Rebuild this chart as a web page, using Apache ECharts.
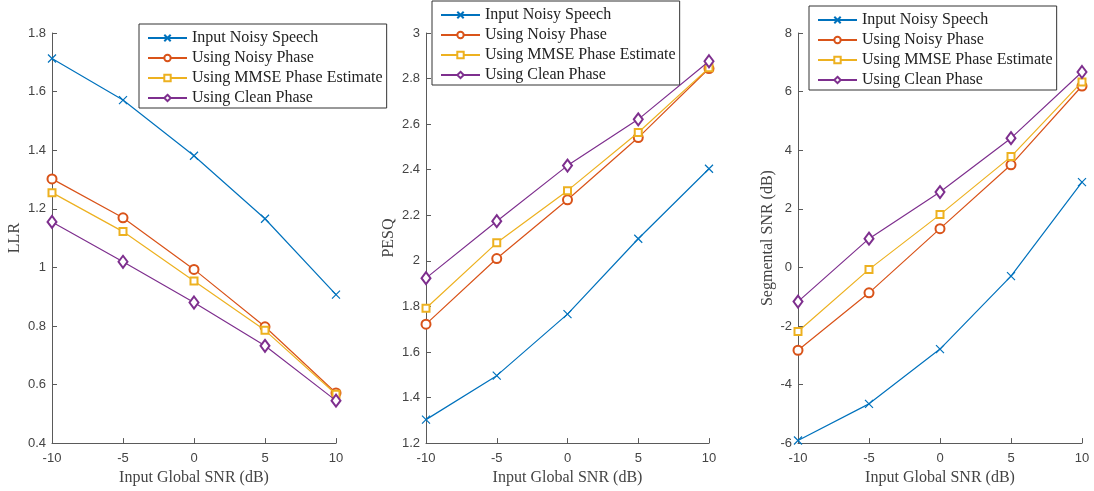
<!DOCTYPE html>
<html>
<head>
<meta charset="utf-8">
<script src="https://cdn.jsdelivr.net/npm/echarts@6/dist/echarts.min.js"></script>
<style>
  html, body { margin: 0; padding: 0; background: #fff; }
  #chart { width: 1094px; height: 491px; }
</style>
</head>
<body>
<div id="chart"></div>
<script>
// Input global SNR (dB) shared by all three panels
const snr = [-10, -5, 0, 5, 10];

const seriesNames = [
  'Input Noisy Speech',
  'Using Noisy Phase',
  'Using MMSE Phase Estimate',
  'Using Clean Phase'
];

// LLR (lower is better)
const llrNoisy = [1.713, 1.571, 1.381, 1.166, 0.907];
const llrNoisyPhase = [1.302, 1.169, 0.993, 0.797, 0.571];
const llrMmsePhase = [1.255, 1.122, 0.953, 0.785, 0.567];
const llrCleanPhase = [1.155, 1.019, 0.880, 0.732, 0.545];

// PESQ
const pesqNoisy = [1.303, 1.496, 1.766, 2.097, 2.404];
const pesqNoisyPhase = [1.722, 2.010, 2.268, 2.541, 2.844];
const pesqMmsePhase = [1.792, 2.079, 2.308, 2.563, 2.847];
const pesqCleanPhase = [1.924, 2.174, 2.418, 2.621, 2.876];

// Segmental SNR (dB)
const segNoisy = [-5.91, -4.66, -2.79, -0.30, 2.91];
const segNoisyPhase = [-2.83, -0.87, 1.32, 3.50, 6.19];
const segMmsePhase = [-2.19, -0.07, 1.80, 3.78, 6.33];
const segCleanPhase = [-1.17, 0.98, 2.57, 4.41, 6.67];

// y-axis ticks per panel
const llrTicks = { min: 0.4, max: 1.8, interval: 0.2 };
const pesqTicks = { min: 1.2, max: 3, interval: 0.2 };
const segTicks = { min: -6, max: 8, interval: 2 };

const colors = ['#0072BD', '#D95319', '#EDB120', '#7E2F8E'];
const symbols = [
  'path://M0,0L10,10M10,0L0,10',
  'emptyCircle',
  'emptyRect',
  'emptyDiamond'
];
const symbolSizes = [8, 9, 7, [9, 12]];

const panels = [
  { name: 'LLR', ticks: llrTicks, data: [llrNoisy, llrNoisyPhase, llrMmsePhase, llrCleanPhase],
    grid: { left: 52, top: 33, width: 284, height: 411 }, nameGap: 29,
    legend: { left: 139, top: 24 } },
  { name: 'PESQ', ticks: pesqTicks, data: [pesqNoisy, pesqNoisyPhase, pesqMmsePhase, pesqCleanPhase],
    grid: { left: 426, top: 33, width: 283, height: 411 }, nameGap: 29,
    legend: { left: 432, top: 1 } },
  { name: 'Segmental SNR (dB)', ticks: segTicks, data: [segNoisy, segNoisyPhase, segMmsePhase, segCleanPhase],
    grid: { left: 798, top: 33, width: 284, height: 411 }, nameGap: 22,
    legend: { left: 809, top: 6 } }
];

const axisColor = '#5a5a5a';
const labelColor = '#444';
const serif = '"Liberation Serif", "Times New Roman", serif';
const sans = '"Liberation Sans", Arial, sans-serif';

const grids = [], xAxes = [], yAxes = [], series = [], legends = [];

panels.forEach((p, pi) => {
  grids.push(Object.assign({ containLabel: false }, p.grid));
  xAxes.push({
    type: 'value', gridIndex: pi, min: -10, max: 10, interval: 5,
    name: 'Input Global SNR (dB)', nameLocation: 'middle', nameGap: 25,
    nameTextStyle: { fontFamily: serif, fontSize: 16, color: labelColor },
    axisLine: { show: true, onZero: false, lineStyle: { color: axisColor, width: 1 } },
    axisTick: { show: true, inside: true, length: 5, lineStyle: { color: axisColor } },
    axisLabel: { fontFamily: sans, fontSize: 13, color: labelColor, margin: 9 },
    splitLine: { show: false }
  });
  yAxes.push({
    type: 'value', gridIndex: pi, min: p.ticks.min, max: p.ticks.max, interval: p.ticks.interval,
    name: p.name, nameLocation: 'middle', nameGap: p.nameGap, nameRotate: 90,
    nameTextStyle: { fontFamily: serif, fontSize: 16, color: labelColor },
    axisLine: { show: true, onZero: false, lineStyle: { color: axisColor, width: 1 } },
    axisTick: { show: true, inside: true, length: 5, lineStyle: { color: axisColor } },
    axisLabel: { fontFamily: sans, fontSize: 13, color: labelColor, margin: 6 },
    splitLine: { show: false }
  });
  p.data.forEach((vals, si) => {
    series.push({
      type: 'line', name: seriesNames[si], xAxisIndex: pi, yAxisIndex: pi,
      data: snr.map((x, k) => [x, vals[k]]),
      symbol: symbols[si], symbolSize: symbolSizes[si], showSymbol: true,
      lineStyle: { color: colors[si], width: 1.2 },
      itemStyle: { color: colors[si], borderColor: colors[si], borderWidth: 1.2 },
      animation: false, z: 2 + si
    });
  });
  legends.push({
    left: p.legend.left, top: p.legend.top, orient: 'vertical',
    data: seriesNames,
    itemWidth: 39, itemHeight: 8, itemGap: 4,
    padding: [6, 4, 2, 8],
    backgroundColor: '#fff', borderColor: '#333', borderWidth: 1,
    textStyle: { fontFamily: serif, fontSize: 16, color: '#222' },
    selectedMode: false
  });
});

const chart = echarts.init(document.getElementById('chart'), null, { renderer: 'canvas' });
chart.setOption({
  backgroundColor: '#fff',
  animation: false,
  grid: grids, xAxis: xAxes, yAxis: yAxes, series: series, legend: legends
});
</script>
</body>
</html>
